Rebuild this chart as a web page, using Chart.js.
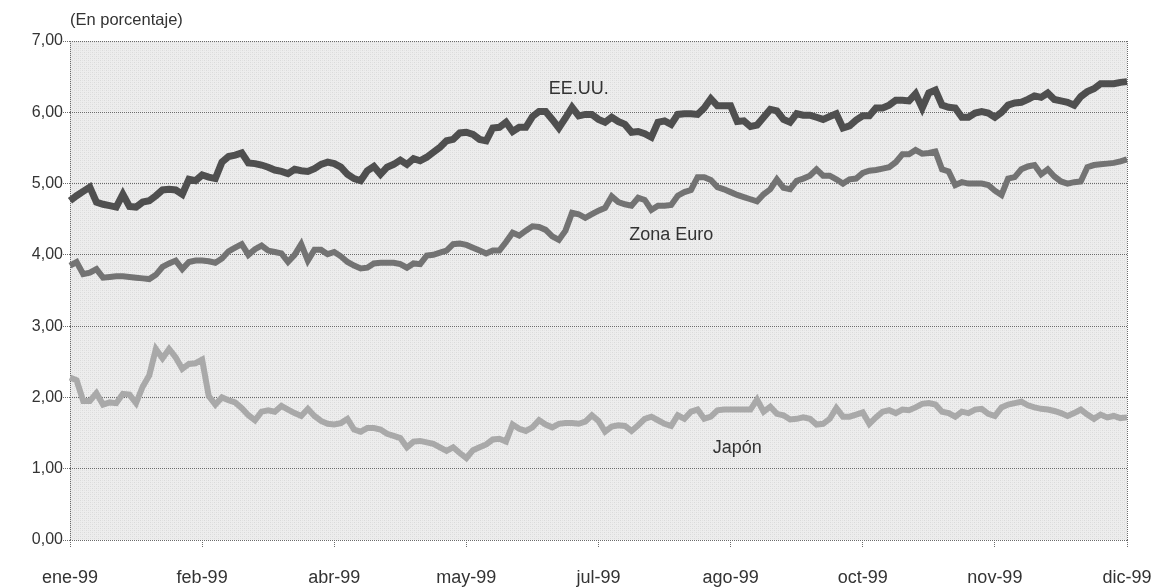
<!DOCTYPE html>
<html lang="es">
<head>
<meta charset="utf-8">
<title>Tipos de interés a largo plazo 1999</title>
<script src="https://cdn.jsdelivr.net/npm/chart.js@4.4.1/dist/chart.umd.min.js"></script>
<style>
  html, body { margin: 0; padding: 0; background: #ffffff; }
  #wrap { position: relative; width: 1158px; height: 587px; }
</style>
</head>
<body>
<div id="wrap"><canvas id="chart" width="1158" height="587"></canvas></div>
<script>
// Month labels shown on the time axis (one every 20 sessions)
const tickLabels = ['ene-99', 'feb-99', 'abr-99', 'may-99', 'jul-99', 'ago-99', 'oct-99', 'nov-99', 'dic-99'];
const tickEvery = 20;

// Yields, in percent
const eeuu = [
  4.76, 4.83, 4.89, 4.95, 4.74, 4.71, 4.69, 4.67, 4.85, 4.68,
  4.67, 4.74, 4.76, 4.83, 4.91, 4.92, 4.91, 4.85, 5.06, 5.04,
  5.12, 5.09, 5.07, 5.30, 5.38, 5.40, 5.43, 5.29, 5.28, 5.26,
  5.23, 5.19, 5.17, 5.14, 5.20, 5.18, 5.17, 5.21, 5.27, 5.30,
  5.28, 5.23, 5.13, 5.07, 5.04, 5.18, 5.24, 5.13, 5.23, 5.27,
  5.33, 5.27, 5.35, 5.32, 5.37, 5.44, 5.51, 5.60, 5.62, 5.71,
  5.72, 5.69, 5.62, 5.60, 5.78, 5.79, 5.86, 5.73, 5.79, 5.79,
  5.94, 6.01, 6.01, 5.90, 5.78, 5.92, 6.07, 5.95, 5.97, 5.97,
  5.90, 5.86, 5.93, 5.87, 5.83, 5.72, 5.73, 5.70, 5.65, 5.86,
  5.88, 5.83, 5.97, 5.98, 5.98, 5.97, 6.06, 6.19, 6.09, 6.09,
  6.09, 5.87, 5.88, 5.80, 5.82, 5.93, 6.04, 6.02, 5.90, 5.86,
  5.98, 5.96, 5.96, 5.93, 5.90, 5.94, 5.98, 5.78, 5.81, 5.89,
  5.95, 5.95, 6.06, 6.06, 6.10, 6.17, 6.17, 6.16, 6.26, 6.06,
  6.27, 6.31, 6.10, 6.07, 6.06, 5.93, 5.93, 5.99, 6.01, 5.99,
  5.93, 6.00, 6.10, 6.13, 6.14, 6.18, 6.23, 6.21, 6.27, 6.18,
  6.16, 6.14, 6.10, 6.22, 6.29, 6.33, 6.40, 6.40, 6.40, 6.42, 6.43
];

const zonaEuro = [
  3.85, 3.90, 3.73, 3.75, 3.80, 3.68, 3.69, 3.70, 3.70, 3.69,
  3.68, 3.67, 3.66, 3.72, 3.83, 3.88, 3.92, 3.80, 3.90, 3.92,
  3.92, 3.91, 3.89, 3.95, 4.05, 4.10, 4.15, 4.00, 4.08, 4.13,
  4.06, 4.04, 4.02, 3.90, 4.00, 4.15, 3.92, 4.07, 4.07, 4.01,
  4.04, 3.98, 3.90, 3.85, 3.81, 3.82, 3.88, 3.89, 3.89, 3.89,
  3.87, 3.82, 3.88, 3.87, 3.99, 4.00, 4.03, 4.06, 4.15, 4.16,
  4.14, 4.10, 4.06, 4.02, 4.06, 4.06, 4.18, 4.31, 4.27, 4.34,
  4.40, 4.39, 4.35, 4.26, 4.21, 4.34, 4.59, 4.57, 4.52, 4.57,
  4.62, 4.66, 4.82, 4.74, 4.71, 4.69, 4.80, 4.77, 4.63, 4.69,
  4.69, 4.70, 4.83, 4.88, 4.91, 5.09, 5.09, 5.05, 4.95, 4.92,
  4.88, 4.84, 4.81, 4.78, 4.75, 4.85, 4.92, 5.06, 4.94, 4.92,
  5.04, 5.07, 5.11, 5.20, 5.11, 5.11, 5.06, 5.00, 5.06, 5.07,
  5.15, 5.18, 5.19, 5.21, 5.23, 5.30, 5.41, 5.41, 5.47, 5.42,
  5.43, 5.45, 5.20, 5.17, 4.98, 5.02, 5.00, 5.00, 5.00, 4.98,
  4.90, 4.84, 5.07, 5.09, 5.20, 5.24, 5.26, 5.13, 5.20, 5.10,
  5.03, 5.00, 5.02, 5.03, 5.23, 5.26, 5.27, 5.28, 5.29, 5.31, 5.34
];

const japon = [
  2.28, 2.24, 1.95, 1.95, 2.06, 1.90, 1.93, 1.92, 2.05, 2.04,
  1.92, 2.15, 2.31, 2.68, 2.55, 2.68, 2.56, 2.40, 2.47, 2.48,
  2.53, 2.02, 1.90, 2.00, 1.96, 1.93, 1.85, 1.75, 1.68, 1.80,
  1.82, 1.80, 1.88, 1.83, 1.78, 1.74, 1.84, 1.74, 1.67, 1.63,
  1.62, 1.64, 1.70, 1.55, 1.52, 1.57, 1.57, 1.55, 1.49, 1.46,
  1.43, 1.30, 1.38, 1.39, 1.37, 1.35, 1.30, 1.25, 1.30, 1.22,
  1.15, 1.26, 1.30, 1.34, 1.41, 1.42, 1.38, 1.62, 1.56, 1.53,
  1.58, 1.68, 1.62, 1.58, 1.63, 1.64, 1.64, 1.63, 1.66, 1.75,
  1.67, 1.52, 1.59, 1.61, 1.60, 1.53, 1.61, 1.70, 1.73, 1.68,
  1.63, 1.60, 1.75, 1.70, 1.80, 1.83, 1.70, 1.73, 1.82, 1.83,
  1.83, 1.83, 1.83, 1.83, 1.97, 1.80, 1.87, 1.77, 1.75, 1.69,
  1.70, 1.72, 1.70, 1.62, 1.63, 1.70, 1.85, 1.73, 1.73, 1.76,
  1.79, 1.63, 1.72, 1.80, 1.82, 1.78, 1.83, 1.82, 1.86, 1.91,
  1.92, 1.90, 1.80, 1.78, 1.73, 1.80, 1.78, 1.83, 1.84, 1.77,
  1.74, 1.86, 1.90, 1.92, 1.94, 1.89, 1.86, 1.84, 1.83, 1.81,
  1.78, 1.74, 1.78, 1.83, 1.76, 1.70, 1.76, 1.72, 1.74, 1.71, 1.72
];

// Series names written next to each line: [text, session index, value]
const seriesNotes = [
  ['EE.UU.', 77, 6.32],
  ['Zona Euro', 91, 4.28],
  ['Japón', 101, 1.29]
];

const categories = eeuu.map((_, i) => (i % tickEvery === 0 ? tickLabels[i / tickEvery] : ''));

const FONT = "'Liberation Sans', Arial, Helvetica, sans-serif";
const TEXT = '#333333';
const RULE = '#6a6a6a';

// Stippled grey fill for the plotting area
function makeStipple(ctx) {
  const p = document.createElement('canvas');
  p.width = 4; p.height = 4;
  const g = p.getContext('2d');
  g.fillStyle = '#ededed';
  g.fillRect(0, 0, 4, 4);
  g.fillStyle = '#dadada';
  g.fillRect(0, 0, 1, 1);
  g.fillRect(2, 2, 1, 1);
  g.fillStyle = '#e3e3e3';
  g.fillRect(2, 0, 1, 1);
  g.fillRect(0, 2, 1, 1);
  return ctx.createPattern(p, 'repeat');
}

const decorations = {
  id: 'decorations',
  beforeDraw(chart) {
    const { ctx, chartArea: a } = chart;
    ctx.save();
    ctx.fillStyle = makeStipple(ctx);
    ctx.fillRect(a.left, a.top, a.right - a.left, a.bottom - a.top);
    ctx.restore();
  },
  afterDraw(chart) {
    const { ctx, chartArea: a, scales } = chart;
    ctx.save();
    // right-hand frame edge
    ctx.strokeStyle = RULE;
    ctx.lineWidth = 1;
    ctx.setLineDash([1, 1]);
    ctx.beginPath();
    ctx.moveTo(Math.round(a.right) + 0.5, a.top);
    ctx.lineTo(Math.round(a.right) + 0.5, a.bottom);
    ctx.stroke();
    ctx.setLineDash([]);
    // unit note
    ctx.fillStyle = TEXT;
    ctx.font = '16.5px ' + FONT;
    ctx.textAlign = 'left';
    ctx.textBaseline = 'middle';
    ctx.fillText('(En porcentaje)', a.left, 20);
    // series names
    ctx.font = '18px ' + FONT;
    ctx.textAlign = 'center';
    seriesNotes.forEach(([txt, idx, val]) => {
      ctx.fillText(txt, scales.x.getPixelForValue(idx), scales.y.getPixelForValue(val));
    });
    ctx.restore();
  }
};

new Chart(document.getElementById('chart'), {
  type: 'line',
  data: {
    labels: categories,
    datasets: [
      { label: 'Japón', data: japon, borderColor: '#a9a9a9', borderWidth: 6 },
      { label: 'Zona Euro', data: zonaEuro, borderColor: '#737373', borderWidth: 6 },
      { label: 'EE.UU.', data: eeuu, borderColor: '#4f4f4f', borderWidth: 7 }
    ].map(d => Object.assign(d, {
      pointRadius: 0,
      pointHoverRadius: 0,
      tension: 0,
      fill: false,
      borderJoinStyle: 'miter',
      borderCapStyle: 'butt'
    }))
  },
  options: {
    responsive: false,
    animation: false,
    events: [],
    layout: { padding: { top: 41, right: 31, left: 0, bottom: 0 } },
    plugins: {
      legend: { display: false },
      tooltip: { enabled: false },
      title: { display: false }
    },
    scales: {
      x: {
        type: 'category',
        offset: false,
        afterBuildTicks(axis) {
          axis.ticks = axis.ticks.filter(t => t.value % tickEvery === 0);
        },
        afterFit(axis) {
          axis.height = 47;
          axis.paddingLeft = 0;
          axis.paddingRight = 0;
        },
        ticks: {
          autoSkip: false,
          maxRotation: 0,
          minRotation: 0,
          padding: 19,
          color: TEXT,
          font: { family: FONT, size: 18 },
          callback(value) { return categories[value]; }
        },
        grid: {
          drawOnChartArea: true,
          drawTicks: true,
          tickLength: 8,
          color: ctx => (ctx.tick && (ctx.tick.value === 0 || ctx.tick.value === eeuu.length - 1)) ? RULE : 'rgba(0,0,0,0)',
          tickColor: RULE,
          tickBorderDash: [1, 1],
          lineWidth: 1
        },
        border: { display: false, dash: [1, 1] }
      },
      y: {
        min: 0,
        max: 7,
        afterFit(axis) {
          axis.width = 70;
          axis.paddingTop = 0;
          axis.paddingBottom = 0;
        },
        ticks: {
          stepSize: 1,
          padding: 0,
          color: TEXT,
          font: { family: FONT, size: 16 },
          callback(value) { return value.toFixed(2).replace('.', ','); }
        },
        grid: {
          drawTicks: true,
          tickLength: 7,
          color: RULE,
          tickColor: RULE,
          tickBorderDash: [1, 1],
          lineWidth: 1
        },
        border: { display: false, dash: [1, 1] }
      }
    }
  },
  plugins: [decorations]
});
</script>
</body>
</html>
